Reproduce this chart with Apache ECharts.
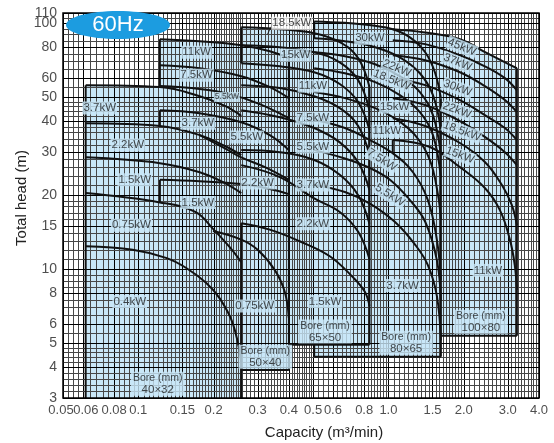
<!DOCTYPE html>
<html>
<head>
<meta charset="utf-8">
<script src="https://cdn.jsdelivr.net/npm/echarts@6/dist/echarts.min.js"></script>
<style>
  html, body { margin: 0; padding: 0; background: #fff; }
  #chart { width: 554px; height: 443px; }
</style>
</head>
<body>
<div id="chart"></div>
<script>
// ---- axis ticks ----
const xTicks = [0.05, 0.06, 0.08, 0.1, 0.15, 0.2, 0.3, 0.4, 0.5, 0.6, 0.8, 1.0, 1.5, 2.0, 3.0, 4.0];
const xTickText = ['0.05', '0.06', '0.08', '0.1', '0.15', '0.2', '0.3', '0.4', '0.5', '0.6', '0.8', '1.0', '1.5', '2.0', '3.0', '4.0'];
const yTicks = [3, 4, 5, 6, 8, 10, 15, 20, 30, 40, 50, 60, 80, 100, 110];

// chart-paper ruling: [from, to, step]
const xGridBands = [[0.05, 0.06, 0.0025], [0.06, 0.1, 0.004], [0.1, 0.26, 0.005], [0.26, 0.5, 0.01], [0.5, 1, 0.025], [1, 2, 0.05], [2, 4, 0.1]];
const yGridBands = [[3, 5, 0.2], [5, 10, 0.5], [10, 20, 1], [20, 50, 2], [50, 110, 5]];

// ---- performance curves [capacity m3/min, head m] ----
// bore 40x32
const a37 = [[0.0616, 56], [0.122, 55], [0.176, 50.5], [0.222, 46.1], [0.258, 42]];
const a22 = [[0.0616, 39.2], [0.122, 38.2], [0.176, 35.1], [0.222, 31.7], [0.258, 29.1]];
const a15 = [[0.0616, 28.5], [0.122, 27.0], [0.176, 24.8], [0.222, 22.4], [0.258, 20.4]];
const a075 = [[0.0616, 20.4], [0.122, 18.7], [0.169, 17.1], [0.199, 14.6], [0.232, 12.3], [0.258, 10.7]];
const a04 = [[0.0616, 12.4], [0.095, 12.0], [0.13, 11.1], [0.156, 10.1], [0.187, 8.8], [0.212, 7.6], [0.239, 6.0], [0.258, 4.2]];
// bore 50x40
const b11 = [[0.122, 86.1], [0.176, 84.5], [0.258, 81.4], [0.3355, 76.9], [0.40, 72.1]];
const b75 = [[0.122, 67.5], [0.176, 65.6], [0.258, 60.9], [0.3355, 55.0], [0.40, 49.6]];
const b55 = [[0.122, 55.5], [0.176, 54.0], [0.232, 51.5], [0.306, 46.9], [0.40, 41.1]];
const b37 = [[0.122, 44.3], [0.176, 43.1], [0.258, 39.6], [0.3355, 35.1], [0.40, 30.5]];
const b22 = [[0.176, 35.1], [0.222, 31.0], [0.258, 28.5], [0.321, 26.0], [0.40, 23.1]];
const b15 = [[0.122, 23.1], [0.176, 22.8], [0.258, 22.2], [0.3355, 21.2], [0.40, 20.2]];
const b075 = [[0.199, 14.3], [0.258, 13.2], [0.30, 12.0], [0.352, 9.9], [0.385, 8.1], [0.40, 6.35]];
// bore 65x50
const c185 = [[0.258, 96.2], [0.368, 94.5], [0.505, 91.0], [0.639, 83.7], [0.757, 72.1], [0.84, 55.0]];
const c15 = [[0.258, 81.4], [0.368, 79.9], [0.505, 76.2], [0.639, 69.3], [0.757, 58.7], [0.84, 44.3]];
const c11 = [[0.258, 68.8], [0.368, 66.8], [0.505, 63.2], [0.639, 56.6], [0.757, 47.8], [0.84, 36.8]];
const c75 = [[0.258, 56.0], [0.368, 54.5], [0.505, 50.5], [0.639, 45.2], [0.757, 38.2], [0.84, 29.1]];
const c55 = [[0.258, 44.3], [0.368, 41.5], [0.505, 37.5], [0.639, 32.8], [0.757, 27.2], [0.84, 21.0]];
const c37 = [[0.258, 30.5], [0.368, 29.9], [0.505, 27.8], [0.639, 24.2], [0.757, 20.0], [0.84, 15.3]];
const c22 = [[0.258, 26.5], [0.368, 23.7], [0.505, 19.4], [0.639, 17.1], [0.757, 14.2], [0.84, 11.0]];
const c15b = [[0.258, 15.4], [0.3355, 14.5], [0.442, 13.0], [0.583, 11.3], [0.722, 9.27], [0.805, 8.1], [0.84, 7.1]];
// bore 80x65
const d30 = [[0.505, 101.7], [0.670, 100.3], [0.885, 97.6], [1.041, 94.5], [1.219, 87.6], [1.403, 76.2], [1.534, 63.2], [1.621, 49.6]];
const d22 = [[0.505, 86.8], [0.670, 84.5], [0.885, 79.9], [1.111, 72.7], [1.336, 62.6], [1.507, 51.0], [1.621, 36.8]];
const d185 = [[0.505, 76.2], [0.670, 73.4], [0.885, 68.1], [1.111, 60.9], [1.336, 52.5], [1.507, 42.3], [1.621, 29.1]];
const d15 = [[0.505, 65.6], [0.670, 62.6], [0.885, 57.6], [1.111, 51.0], [1.336, 43.5], [1.507, 35.1], [1.621, 23.6]];
const d11 = [[0.505, 52.5], [0.670, 49.6], [0.885, 45.2], [1.06, 41.1], [1.278, 35.1], [1.465, 27.8], [1.577, 20.2], [1.621, 15.9]];
const d75 = [[0.505, 40.4], [0.670, 37.5], [0.843, 33.5], [1.041, 29.6], [1.254, 24.8], [1.438, 19.1], [1.562, 13.2], [1.621, 9.06]];
const d55 = [[0.505, 30.5], [0.670, 28.2], [0.843, 25.8], [1.014, 23.1], [1.219, 19.1], [1.403, 15.6], [1.562, 10.9], [1.621, 7.5]];
const d37 = [[0.505, 22.0], [0.670, 20.6], [0.843, 18.5], [1.06, 15.6], [1.278, 12.6], [1.438, 10.4], [1.562, 7.8], [1.621, 5.15]];
// bore 100x80
const e45 = [[1.041, 94.5], [1.376, 91.9], [1.931, 86.1], [2.48, 75.5], [2.968, 68.8], [3.263, 65.6]];
const e37 = [[1.041, 85.3], [1.403, 82.2], [1.931, 74.1], [2.43, 66.8], [2.922, 59.8], [3.263, 53.4]];
const e30 = [[1.041, 74.1], [1.403, 70.7], [1.931, 63.2], [2.43, 55.5], [2.922, 48.7], [3.263, 43.5]];
const e22 = [[1.041, 59.8], [1.403, 56.0], [1.931, 48.7], [2.43, 42.3], [2.922, 37.5], [3.263, 33.5]];
const e185 = [[1.041, 49.6], [1.403, 46.5], [1.931, 40.0], [2.43, 34.5], [2.922, 29.9], [3.263, 26.5]];
const e15 = [[1.041, 41.1], [1.403, 38.2], [1.931, 32.6], [2.43, 27.3], [2.843, 22.0], [3.11, 18.3], [3.263, 15.1]];
const e11 = [[1.041, 33.5], [1.465, 31.4], [1.931, 26.0], [2.43, 21.4], [2.791, 17.4], [3.06, 13.2], [3.20, 10.4], [3.263, 8.25]];

// upper envelope and floor of each bore range
const boreTops = [a37, b11, c185, d30, e45];
const boreFloors = [3, 3.9, 4.94, 4.41, 5.37];

// straight range boundaries
const rangeEdges = [
  [[0.0616, 3], [0.0616, 56]],
  [[0.258, 15.4], [0.258, 3]],
  [[0.122, 86.1], [0.122, 55]],
  [[0.122, 44.3], [0.122, 38.2]],
  [[0.122, 23.1], [0.122, 18.7]],
  [[0.40, 72.1], [0.40, 3.9]],
  [[0.258, 3.9], [0.40, 3.9]],
  [[0.258, 96.2], [0.258, 68.8]],
  [[0.84, 55.0], [0.84, 4.94]],
  [[0.40, 4.94], [0.84, 4.94]],
  [[0.505, 101.7], [0.505, 86.8]],
  [[0.505, 4.94], [0.505, 4.41]],
  [[0.505, 4.41], [1.621, 4.41]],
  [[1.621, 49.6], [1.621, 4.41]],
  [[1.041, 33.5], [1.041, 29.6]],
  [[1.621, 5.37], [3.263, 5.37]],
  [[3.263, 65.6], [3.263, 5.37]]
];
const leader = [[0.345, 99.5], [0.328, 90]];

// motor output labels [capacity, head, text, angle]
const kwLabels = [
  [0.0701, 45.2, '3.7kW', 0], [0.0908, 32.0, '2.2kW', 0], [0.0968, 23.1, '1.5kW', 0],
  [0.0939, 15.1, '0.75kW', 0], [0.0924, 7.4, '0.4kW', 0],
  [0.171, 76.2, '11kW', 0], [0.171, 61.5, '7.5kW', 0], [0.173, 39.2, '3.7kW', 0],
  [0.2715, 34.5, '5.5kW', 0], [0.300, 22.4, '2.2kW', 0], [0.173, 18.7, '1.5kW', 0], [0.292, 7.1, '0.75kW', 0],
  [0.426, 74.1, '15kW', 0], [0.499, 55.5, '11kW', 0], [0.499, 41.1, '7.5kW', 0], [0.499, 31.4, '5.5kW', 0],
  [0.499, 22.0, '3.7kW', 0], [0.499, 15.3, '2.2kW', 0], [0.558, 7.4, '1.5kW', 0],
  [0.843, 86.8, '30kW', 0], [1.081, 65.6, '22kW', -22], [1.032, 58.7, '18.5kW', -22],
  [1.06, 45.6, '15kW', 0], [0.986, 36.4, '11kW', 0], [0.942, 27.8, '7.5kW', -32],
  [1.014, 20.0, '5.5kW', -32], [1.14, 8.6, '3.7kW', 0],
  [1.967, 79.9, '45kW', -22], [1.89, 69.3, '37kW', -22], [1.89, 54.5, '30kW', -20],
  [1.878, 44.3, '22kW', -20], [1.967, 36.4, '18.5kW', -20], [1.931, 29.1, '15kW', -20],
  [2.499, 9.9, '11kW', 0]
];
const smallLabels = [[0.226, 50.1, '5.5kW']];
const outsideLabels = [[0.411, 99.9, '18.5kW']];
const boreLabels = [[0.1196, 3.43, '40×32'], [0.322, 4.41, '50×40'], [0.558, 5.59, '65×50'], [1.177, 5.03, '80×65'], [2.343, 6.12, '100×80']];

// ---- drawing ----
const FONT = "'Liberation Sans', Arial, Helvetica, sans-serif";
const NARROW = "'Liberation Sans Narrow', 'Arial Narrow', 'Liberation Sans', Arial, sans-serif";
const FILL = '#c9e7f7';
const INK = '#111';
const SMOOTH = 0.4;
const X0 = 0.05, X1 = 4, Y0 = 3, Y1 = 110;

function expand(bands) {
  const out = [];
  bands.forEach(([a, b, s]) => {
    const n = Math.round((b - a) / s);
    for (let i = 0; i <= n; i++) {
      const v = +(a + i * s).toFixed(5);
      if (!out.length || Math.abs(out[out.length - 1] - v) > 1e-9) out.push(v);
    }
  });
  return out;
}
const xGrid = expand(xGridBands);
const yGrid = expand(yGridBands);

const series = [];

// bore range fills
boreTops.forEach((top, i) => {
  series.push({
    type: 'line', data: top, smooth: SMOOTH, symbol: 'none', silent: true, z: 1,
    lineStyle: { width: 0, opacity: 0 },
    areaStyle: { color: FILL, opacity: 1, origin: boreFloors[i] }
  });
});

// ruling
series.push({
  type: 'custom', coordinateSystem: 'cartesian2d', silent: true, z: 2,
  data: xGrid.map(v => [v, Y0]),
  renderItem(params, api) {
    const q = api.value(0);
    const p0 = api.coord([q, Y0]), p1 = api.coord([q, Y1]);
    const major = xTicks.some(t => Math.abs(t - q) < 1e-9);
    const x = Math.round(p0[0]) + 0.5;
    return { type: 'line', shape: { x1: x, y1: p0[1], x2: x, y2: p1[1] },
      style: { stroke: major ? '#000' : '#474747', lineWidth: 1 } };
  }
});
series.push({
  type: 'custom', coordinateSystem: 'cartesian2d', silent: true, z: 2,
  data: yGrid.map(v => [X0, v]),
  renderItem(params, api) {
    const h = api.value(1);
    const p0 = api.coord([X0, h]), p1 = api.coord([X1, h]);
    const major = yTicks.some(t => Math.abs(t - h) < 1e-9);
    const y = Math.round(p0[1]) + 0.5;
    return { type: 'line', shape: { x1: p0[0], y1: y, x2: p1[0], y2: y },
      style: { stroke: major ? '#000' : '#474747', lineWidth: 1 } };
  }
});

// curves
const curveList = [a37, a22, a15, a075, a04, b11, b75, b55, b37, b22, b15, b075,
  c185, c15, c11, c75, c55, c37, c22, c15b, d30, d22, d185, d15, d11, d75, d55, d37,
  e45, e37, e30, e22, e185, e15, e11];
curveList.forEach(c => series.push({
  type: 'line', data: c, smooth: SMOOTH, symbol: 'none', silent: true, z: 3,
  lineStyle: { color: INK, width: 2 }
}));
rangeEdges.forEach(e => series.push({
  type: 'line', data: e, symbol: 'none', silent: true, z: 3, lineStyle: { color: INK, width: 2 }
}));
series.push({ type: 'line', data: leader, symbol: 'none', silent: true, z: 3, lineStyle: { color: INK, width: 0.8 } });

// labels
const labelBase = { show: true, position: 'inside', fontFamily: FONT, color: '#1a1a1a', backgroundColor: FILL, padding: [1, 1, 0, 1] };
series.push({
  type: 'scatter', silent: true, z: 4, symbolSize: 0, itemStyle: { color: 'transparent' },
  data: kwLabels.map(([q, h, t, r]) => ({ value: [q, h], label: { formatter: t, rotate: r } })),
  label: Object.assign({}, labelBase, { fontSize: 11.5 })
});
series.push({
  type: 'scatter', silent: true, z: 4, symbolSize: 0, itemStyle: { color: 'transparent' },
  data: smallLabels.map(([q, h, t]) => ({ value: [q, h], label: { formatter: t } })),
  label: Object.assign({}, labelBase, { fontSize: 8.5, fontFamily: NARROW })
});
series.push({
  type: 'scatter', silent: true, z: 4, symbolSize: 0, itemStyle: { color: 'transparent' },
  data: outsideLabels.map(([q, h, t]) => ({ value: [q, h], label: { formatter: t } })),
  label: Object.assign({}, labelBase, { fontSize: 11.5, backgroundColor: '#fff' })
});
series.push({
  type: 'scatter', silent: true, z: 4, symbolSize: 0, itemStyle: { color: 'transparent' },
  data: boreLabels.map(([q, h, t]) => ({ value: [q, h], label: { formatter: '{a|Bore (mm)}\n{b|' + t + '}' } })),
  label: Object.assign({}, labelBase, {
    padding: [1, 2, 0, 2], lineHeight: 11,
    rich: { a: { fontSize: 10.5, fontFamily: NARROW, lineHeight: 11 }, b: { fontSize: 11.5, fontFamily: FONT, lineHeight: 12 } }
  })
});

// tick labels
series.push({
  type: 'scatter', silent: true, z: 4, symbolSize: 0, itemStyle: { color: 'transparent' },
  data: xTicks.map((v, i) => ({ value: [v, Y0], label: { formatter: xTickText[i], offset: [xTickText[i] === '0.06' ? 3 : (xTickText[i] === '0.05' ? -2 : 0), 0] } })),
  label: { show: true, position: 'bottom', distance: 6, fontSize: 13, fontFamily: FONT, color: '#222' }
});
series.push({
  type: 'scatter', silent: true, z: 4, symbolSize: 0, itemStyle: { color: 'transparent' },
  data: yTicks.map(v => ({ value: [X0, v], label: { formatter: String(v) } })),
  label: { show: true, position: 'left', distance: 6, fontSize: 14, fontFamily: FONT, color: '#222' }
});

// frame
series.push({
  type: 'custom', coordinateSystem: 'cartesian2d', silent: true, z: 5,
  data: [[X0, Y0]],
  renderItem(params, api) {
    const p0 = api.coord([X0, Y1]), p1 = api.coord([X1, Y0]);
    return { type: 'rect', shape: { x: p0[0], y: p0[1], width: p1[0] - p0[0], height: p1[1] - p0[1] },
      style: { fill: 'none', stroke: '#000', lineWidth: 1.5 } };
  }
});

const chart = echarts.init(document.getElementById('chart'), null, { renderer: 'canvas' });
chart.setOption({
  animation: false,
  backgroundColor: '#fff',
  grid: { left: 63, right: 15, top: 13, bottom: 45, show: false },
  xAxis: {
    type: 'log', logBase: 10, min: X0, max: X1,
    axisLine: { show: false }, axisTick: { show: false }, axisLabel: { show: false },
    splitLine: { show: false }, minorTick: { show: false }
  },
  yAxis: {
    type: 'log', logBase: 10, min: Y0, max: Y1,
    axisLine: { show: false }, axisTick: { show: false }, axisLabel: { show: false },
    splitLine: { show: false }, minorTick: { show: false }
  },
  graphic: [
    { type: 'ellipse', shape: { cx: 118, cy: 25, rx: 52, ry: 14 }, style: { fill: '#1c9ce0' }, z: 10 },
    { type: 'text', x: 118, y: 25, z: 11, style: { text: '60Hz', fill: '#fff', font: '22px ' + FONT, align: 'center', verticalAlign: 'middle' } },
    { type: 'text', x: 324, y: 433, z: 11, style: { text: 'Capacity (m³/min)', fill: '#222', font: '15px ' + FONT, align: 'center', verticalAlign: 'middle' } },
    { type: 'text', x: 22, y: 198, rotation: Math.PI / 2, z: 11, style: { text: 'Total head (m)', fill: '#222', font: '15px ' + FONT, align: 'center', verticalAlign: 'middle' } }
  ],
  series: series
});
</script>
</body>
</html>
